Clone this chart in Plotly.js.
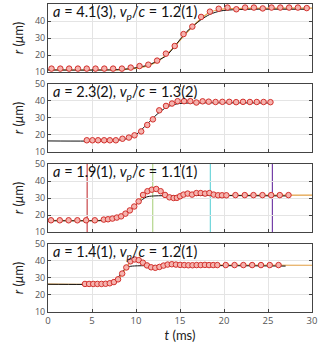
<!DOCTYPE html>
<html>
<head>
<meta charset="utf-8">
<script src="https://cdn.plot.ly/plotly-3.0.1.min.js"></script>
<style>html,body{margin:0;padding:0;background:#fff;}#chart{width:325px;height:350px;}</style>
</head>
<body>
<div id="chart"></div>
<script>
// ---------- data ----------
// Panel 1
const p1_t = [0.4,1.4,2.4,3.4,4.4,5.4,6.4,7.4,8.4,9.4,10.4,11.4,12.4,13.4,14.4,15.4,16.4,17.4,18.4,19.4,20.4,21.4,22.4,23.4,24.4,25.4,26.4,27.4,28.4,29.4];
const p1_r = [12.0,12.0,12.0,12.0,12.0,12.0,12.0,12.0,12.0,12.6,13.5,14.3,16.7,20.8,25.3,32.3,36.7,42.4,45.5,47.2,47.9,46.9,47.9,47.9,47.4,47.9,47.9,47.9,47.9,47.6];
const fit1_t = [0,8,10,11.5,12.5,13.5,14.6,15.8,17.3,18.4,19.6,21,23,29.6];
const fit1_r = [11.2,11.4,12.5,14.3,16.8,19.8,26.5,33.9,40.4,43.9,45.9,46.6,46.9,46.9];
const sm1_t = [0,8,9.5,11,12.3,13.3,14.3,15.3,16.3,17.3,18.3,19.3,20.5,30];
const sm1_r = [11.3,11.3,11.8,13.2,15.8,19.5,24.5,30.5,36,41,44.8,46.6,47.3,47.6];

// Panel 2
const p2_t = [4.41,5.05,5.69,6.38,7.03,7.71,8.46,9.19,9.83,10.59,11.28,11.92,12.64,13.41,14.09,14.73,15.46,16.17,16.86,17.57,18.26,19.04,19.82,20.6,21.38,22.16,22.94,23.72,24.5,25.28];
const p2_r = [16.9,16.9,16.9,16.9,16.9,16.9,17.8,18.5,19.8,22.1,25.9,29.2,34.5,37.1,38.5,39.9,39.9,39.9,39.1,39.8,39.6,39.4,39.5,39.5,39.3,39.5,39.4,39.4,39.4,39.3];
const fit2_t = [0,7,8.6,9.3,10.1,11.24,12.4,13.5,14.66,16,25.3];
const fit2_r = [16.5,16.6,17.4,18.4,20.6,26.3,32.2,36.4,38.3,38.8,38.8];

// Panel 3
const p3_t = [0.34,1.34,2.34,3.34,4.33,5.32,6.34,6.82,7.32,7.82,8.31,8.8,9.3,9.8,10.3,10.8,11.3,11.8,12.3,12.8,13.3,13.8,14.27,14.65,15.0,15.4,15.87,16.37,16.86,17.35,17.85,18.34,18.83,19.33,19.78,20.27,21.3,22.36,23.35,24.37,25.36,26.34,27.33];
const p3_r = [16.9,16.9,16.9,16.9,16.9,16.9,17.3,17.5,17.9,18.5,19.2,20.8,22.7,25.0,28.0,31.8,34.0,34.9,35.3,34.0,31.8,30.4,30.0,30.1,31.0,32.0,32.6,32.0,32.9,32.9,32.6,32.9,32.0,31.6,31.6,31.6,31.7,31.7,31.7,31.7,31.7,31.7,31.7];
const fit3_t = [0,6,7,8.2,9.3,10.3,11.2,12,27.3];
const fit3_r = [16.6,16.7,17.0,18.7,22.6,27.4,30.6,31.2,31.2];
const sm3_t = [0,6,7.5,8.5,9.3,10,10.7,11.3,12,12.5,13,13.5,14,14.5,15,15.7,16.5,17.5,18.5,19.3,20.5,30];
const sm3_r = [16.8,16.9,17.7,19.5,22.5,26,30.8,33.8,35.1,34.8,33,31,29.9,29.8,30.6,31.7,32.3,32.5,32.2,31.7,31.6,31.7];
const marks3_t = [4.45,11.9,18.45,25.5];
const marks3_c = ['#c8474a','#b3d68c','#6fd6db','#7540a8'];

// Panel 4
const p4_t = [4.2,4.67,5.14,5.61,6.08,6.55,7.02,7.49,7.96,8.43,8.9,9.37,9.84,10.31,10.78,11.25,11.72,12.19,12.66,13.13,13.6,14.07,14.54,15.01,15.48,15.95,16.42,16.89,17.36,17.83,18.3,18.77,19.24,20.2,21.2,22.2,23.2,24.2,25.2,26.2];
const p4_r = [26.5,26.5,26.5,26.5,26.5,26.6,26.9,27.6,29.2,32.6,36.2,39.8,40.9,40.5,39.0,37.4,36.3,36.0,36.5,37.3,37.9,38.1,37.9,37.7,37.6,37.5,37.5,37.6,37.6,37.7,37.6,37.6,37.6,37.6,37.6,37.6,37.6,37.6,37.6,37.6];
const fit4_t = [0,6,6.7,7.3,7.8,8.4,9.0,9.6,27];
const fit4_r = [26.3,26.3,26.6,27.5,29.2,33.5,36.4,37.0,37.0];
const sm4_t = [0,6,7,7.5,8,8.5,9,9.5,9.9,10.4,10.9,11.4,11.9,12.3,12.8,13.3,13.8,14.5,16,18,30];
const sm4_r = [26.4,26.4,26.8,27.6,29.3,33,37,40,40.7,40.3,38.7,37.1,36.1,36,36.6,37.5,38,37.9,37.5,37.6,37.5];

const labels = [
  '<i>a</i> = 4.1(3), <i>v<sub>p</sub></i>/<i>c</i> = 1.2(1)',
  '<i>a</i> = 2.3(2), <i>v<sub>p</sub></i>/<i>c</i> = 1.3(2)',
  '<i>a</i> = 1.9(1), <i>v<sub>p</sub></i>/<i>c</i> = 1.1(1)',
  '<i>a</i> = 1.4(1), <i>v<sub>p</sub></i>/<i>c</i> = 1.2(1)'
];
const xTicks = [0,5,10,15,20,25,30];
const yTicks = [10,20,30,40,50];

// ---------- build ----------
const panels = [
  {t:p1_t, r:p1_r, ft:fit1_t, fr:fit1_r, st:sm1_t, sr:sm1_r},
  {t:p2_t, r:p2_r, ft:fit2_t, fr:fit2_r, st:null, sr:null},
  {t:p3_t, r:p3_r, ft:fit3_t, fr:fit3_r, st:sm3_t, sr:sm3_r},
  {t:p4_t, r:p4_r, ft:fit4_t, fr:fit4_r, st:sm4_t, sr:sm4_r}
];
const domains = [[0.7792,1],[0.5195,0.7403],[0.2597,0.4805],[0,0.2208]];
const traces = [];
const layout = {
  width:325, height:350,
  margin:{l:48, r:13, t:4, b:38},
  paper_bgcolor:'#fff', plot_bgcolor:'#fff',
  showlegend:false,
  font:{family:'Lato, "Open Sans", sans-serif', color:'#222'},
  annotations:[], shapes:[]
};
panels.forEach((p,i)=>{
  const k = i===0 ? '' : String(i+1);
  const xa = 'x'+k, ya = 'y'+k;
  if (p.st) traces.push({x:p.st, y:p.sr, xaxis:xa, yaxis:ya, type:'scatter', mode:'lines',
     line:{color:'#e2a045', width:1.2, shape:'spline', smoothing:0.8}, hoverinfo:'skip'});
  traces.push({x:p.ft, y:p.fr, xaxis:xa, yaxis:ya, type:'scatter', mode:'lines',
     line:{color:'#111', width:1, shape:'spline', smoothing:0.8}, hoverinfo:'skip'});
  traces.push({x:p.t, y:p.r, xaxis:xa, yaxis:ya, type:'scatter', mode:'markers',
     marker:{symbol:'circle', size:5.5, color:'#f5b3ae', line:{color:'#d3302c', width:1}}});
  const xaxis = {
    domain:[0,1], anchor:ya, range:[0,30], tickvals:xTicks,
    showticklabels: i===3, ticks:'inside', ticklen:3, tickcolor:'#444',
    showline:true, linecolor:'#444', linewidth:1, mirror:'ticks',
    showgrid:true, gridcolor:'#e4e4e4', gridwidth:1, zeroline:false,
    tickfont:{size:9.5, color:'#555', family:'"Open Sans", sans-serif'}
  };
  if (i===3) xaxis.title = {text:'<i>t</i> (ms)', font:{size:13, color:'#222'}, standoff:4};
  layout['xaxis'+k] = xaxis;
  layout['yaxis'+k] = {
    domain:domains[i], anchor:xa, range:[10,50], tickvals:yTicks,
    ticks:'inside', ticklen:3, tickcolor:'#444',
    showline:true, linecolor:'#444', linewidth:1, mirror:'ticks',
    showgrid:true, gridcolor:'#e4e4e4', gridwidth:1, zeroline:false,
    tickfont:{size:9, color:'#555', family:'"Open Sans", sans-serif'},
    title:{text:'<i>r</i> (<i>μ</i>m)', font:{size:13, color:'#222'}, standoff:8}
  };
  layout.annotations.push({
    xref:xa+' domain', yref:ya+' domain', x:0.01, y:0.87,
    xanchor:'left', yanchor:'middle', showarrow:false, text:labels[i],
    font:{size:14.5, color:'#111', family:'Lato, "Open Sans", sans-serif'}
  });
});
marks3_t.forEach((t,j)=>{
  layout.shapes.push({type:'line', xref:'x3', yref:'y3 domain', x0:t, x1:t, y0:0, y1:1,
    line:{color:marks3_c[j], width:1.2}, layer:'below'});
});
Plotly.newPlot('chart', traces, layout, {staticPlot:true});
</script>
</body>
</html>
